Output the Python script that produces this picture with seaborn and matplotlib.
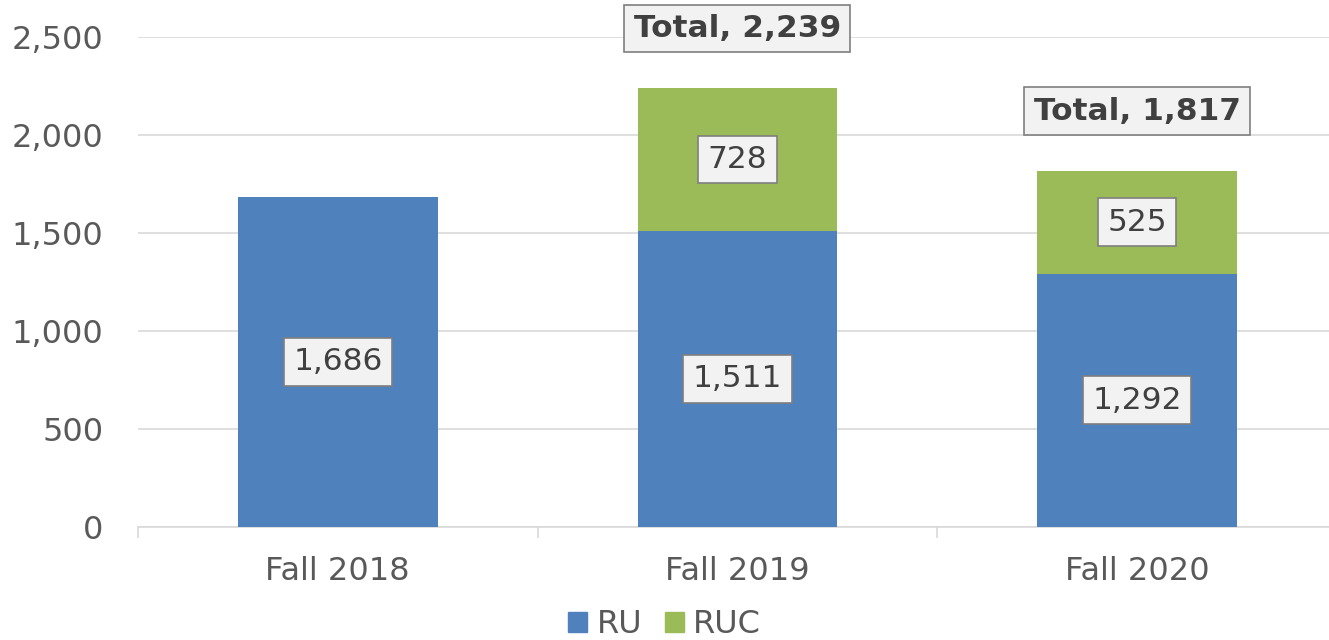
import matplotlib
matplotlib.use("Agg")
import matplotlib.pyplot as plt
import seaborn as sns
import pandas as pd
from matplotlib.ticker import FuncFormatter, FixedLocator
from matplotlib.patches import Patch

terms = ["Fall 2018", "Fall 2019", "Fall 2020"]
ru = [1686, 1511, 1292]
ruc = [0, 728, 525]

blue = "#4f81bd"
green = "#9bbb59"
grey_txt = "#595959"
grid_col = "#d9d9d9"

sns.set_theme(style="white")
plt.rcParams["font.family"] = ["DejaVu Sans"]

df = pd.DataFrame({"term": terms, "RU": ru, "RUC": ruc})
df["total"] = df["RU"] + df["RUC"]

fig = plt.figure(figsize=(13.29, 6.4), dpi=100)
ax = fig.add_axes([0.1038, 0.1766, 0.8962, 0.7656])

# stacked look: totals in green, RU drawn over it in blue
sns.barplot(data=df, x="term", y="total", color=green, width=0.5,
            saturation=1, linewidth=0, ax=ax, zorder=2)
sns.barplot(data=df, x="term", y="RU", color=blue, width=0.5,
            saturation=1, linewidth=0, ax=ax, zorder=3)

ax.set_ylim(0, 2500)
ax.set_xlim(-0.5, 2.48)
ax.set_yticks([0, 500, 1000, 1500, 2000, 2500])
ax.yaxis.set_major_formatter(FuncFormatter(lambda v, p: f"{int(v):,}"))
ax.grid(axis="y", color=grid_col, linewidth=1.2, zorder=0)
ax.set_axisbelow(True)
for s in ["left", "right", "top"]:
    ax.spines[s].set_visible(False)
ax.spines["bottom"].set_color(grid_col)
ax.spines["bottom"].set_linewidth(1.2)
ax.set_xlabel("")
ax.set_ylabel("")

ax.tick_params(axis="y", length=0, pad=25, labelsize=23, labelcolor=grey_txt)
ax.tick_params(axis="x", which="major", length=0, pad=21, labelsize=23,
               labelcolor=grey_txt)
ax.xaxis.set_minor_locator(FixedLocator([-0.5, 0.5, 1.5]))
ax.tick_params(axis="x", which="minor", length=8, width=1.2, color=grid_col,
               bottom=True)

box = dict(boxstyle="square,pad=0.3", fc="#f2f2f2", ec="#7f7f7f", lw=1.2)
for i, row in df.iterrows():
    ax.text(i, row["RU"] / 2, f"{row['RU']:,}", ha="center", va="center",
            fontsize=22.5, color="#404040", bbox=box, zorder=5)
    if row["RUC"] > 0:
        ax.text(i, row["RU"] + row["RUC"] / 2, f"{row['RUC']:,}", ha="center",
                va="center", fontsize=22.5, color="#404040", bbox=box, zorder=5)
        ax.annotate(f"Total, {row['total']:,}", xy=(i, row["total"]),
                    xytext=(0, 43), textcoords="offset points", ha="center",
                    va="center", fontsize=22.5, fontweight="bold",
                    color="#404040", bbox=box, zorder=5, annotation_clip=False)

handles = [Patch(color=blue, label="RU"), Patch(color=green, label="RUC")]
fig.legend(handles=handles, loc="lower center", bbox_to_anchor=(0.5, -0.045),
           ncol=2, frameon=False, fontsize=23, handlelength=0.6,
           handleheight=0.6, handletextpad=0.3, columnspacing=0.7,
           labelcolor=grey_txt)

fig.savefig("out.png", dpi=100)
